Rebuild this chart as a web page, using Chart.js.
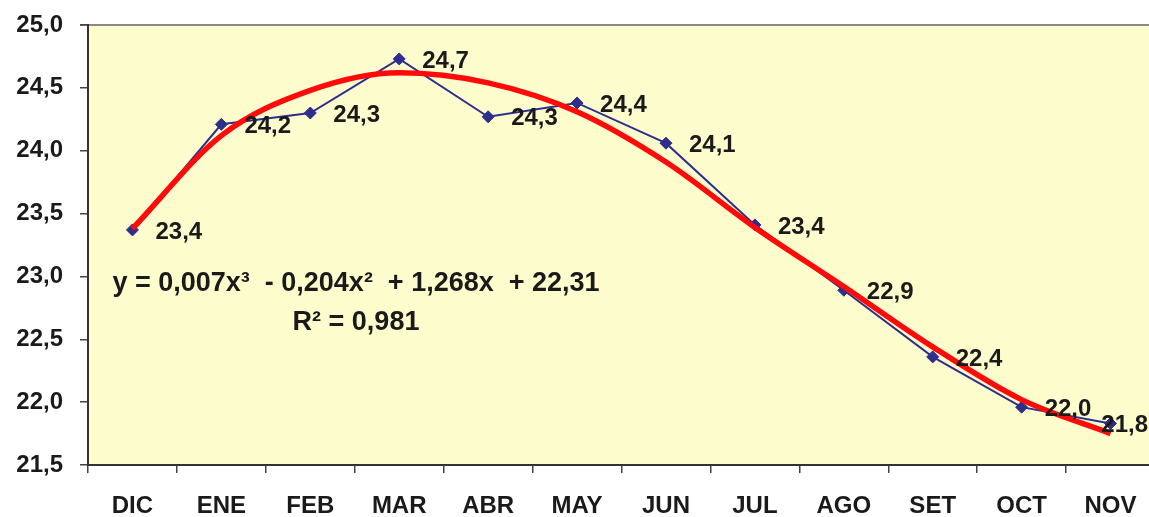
<!DOCTYPE html>
<html lang="es">
<head>
<meta charset="utf-8">
<title>Temperatura media mensual</title>
<script src="https://cdn.jsdelivr.net/npm/chart.js@4/dist/chart.umd.min.js"></script>
<style>
    html, body {
        margin: 0;
        padding: 0;
        background: #ffffff;
        overflow: hidden;
    }
    .chart-wrap {
        position: relative;
        width: 1162px;
        height: 517px;
    }
</style>
</head>
<body>
<div class="chart-wrap">
    <canvas id="tempChart" width="1162" height="517"></canvas>
</div>
<script>
// Chart data
const months = ['DIC', 'ENE', 'FEB', 'MAR', 'ABR', 'MAY', 'JUN', 'JUL', 'AGO', 'SET', 'OCT', 'NOV'];
const tempValues = [23.37, 24.21, 24.30, 24.73, 24.27, 24.38, 24.06, 23.41, 22.89, 22.36, 21.96, 21.83];
// Polynomial trendline, sampled at each month
const trendValues = [23.38, 24.12, 24.48, 24.62, 24.54, 24.31, 23.91, 23.39, 22.92, 22.44, 22.02, 21.75];
const yMin = 21.5;
const yMax = 25.0;
const yStep = 0.5;
const equationLine = 'y = 0,007x\u00B3  - 0,204x\u00B2  + 1,268x  + 22,31';
const r2Line = 'R\u00B2 = 0,981';

const FONT = 'Arial, "Liberation Sans", sans-serif';
const VISIBLE_WIDTH = 1149;

// Decimal comma, one digit
const fmt = (v) => v.toFixed(1).replace('.', ',');

document.addEventListener('DOMContentLoaded', () => {
    const ctx = document.getElementById('tempChart').getContext('2d');

    // Pale yellow plot area plus the grey top border
    const plotBackground = {
        id: 'plotBackground',
        beforeDraw(chart) {
            const { ctx, chartArea: a } = chart;
            ctx.save();
            ctx.fillStyle = '#FDFCCD';
            ctx.fillRect(a.left, a.top, a.right - a.left, a.bottom - a.top);
            ctx.strokeStyle = '#8a8a8a';
            ctx.lineWidth = 2;
            ctx.beginPath();
            ctx.moveTo(a.left - 8, a.top);
            ctx.lineTo(a.right, a.top);
            ctx.stroke();
            ctx.restore();
        }
    };

    // Value labels to the right of each marker, and the trend equation
    const annotations = {
        id: 'annotations',
        afterDatasetsDraw(chart) {
            const { ctx } = chart;
            const meta = chart.getDatasetMeta(1);
            ctx.save();
            ctx.fillStyle = '#1a1a1a';
            ctx.font = 'bold 24px ' + FONT;
            ctx.textBaseline = 'middle';
            ctx.textAlign = 'left';
            meta.data.forEach((pt, i) => {
                const text = fmt(tempValues[i]);
                const w = ctx.measureText(text).width;
                // keep the last label inside the picture, like the original
                const x = Math.min(pt.x + 23, VISIBLE_WIDTH - 1 - w);
                ctx.fillText(text, x, pt.y + 2);
            });

            ctx.font = 'bold 27px ' + FONT;
            ctx.textAlign = 'center';
            ctx.fillText(equationLine, 356, 284);
            ctx.fillText(r2Line, 356, 323);
            ctx.restore();
        }
    };

    new Chart(ctx, {
        type: 'line',
        data: {
            labels: months,
            datasets: [
                {
                    label: 'Polinómica',
                    data: trendValues,
                    borderColor: '#FF0A0A',
                    borderWidth: 5.5,
                    pointRadius: 0,
                    cubicInterpolationMode: 'monotone',
                    fill: false,
                    order: 0,
                },
                {
                    label: 'Temperatura',
                    data: tempValues,
                    borderColor: '#2E2E8C',
                    borderWidth: 2,
                    pointStyle: 'rectRot',
                    pointRadius: 6,
                    pointBackgroundColor: '#2E2E8C',
                    pointBorderColor: '#2E2E8C',
                    pointBorderWidth: 1,
                    tension: 0,
                    fill: false,
                    order: 1,
                },
            ],
        },
        options: {
            responsive: false,
            animation: false,
            layout: {
                padding: { top: 25, right: 3, left: 0, bottom: 0 }
            },
            plugins: {
                legend: { display: false },
                tooltip: { enabled: false },
            },
            scales: {
                x: {
                    offset: true,
                    grid: {
                        offset: true,
                        drawOnChartArea: false,
                        drawTicks: true,
                        tickLength: 8,
                        color: '#444',
                        lineWidth: 1.5,
                    },
                    border: { display: true, color: '#333', width: 2 },
                    ticks: {
                        color: '#1a1a1a',
                        padding: 19,
                        autoSkip: false,
                        maxRotation: 0,
                        font: { family: FONT, size: 24, weight: 'bold' },
                    },
                    afterFit(scale) {
                        scale.height = 52;
                        scale.paddingLeft = 0;
                        scale.paddingRight = 0;
                    },
                },
                y: {
                    min: yMin,
                    max: yMax,
                    grid: {
                        drawOnChartArea: false,
                        drawTicks: true,
                        tickLength: 8,
                        color: '#444',
                        lineWidth: 1.5,
                    },
                    border: { display: true, color: '#333', width: 2 },
                    ticks: {
                        stepSize: yStep,
                        color: '#1a1a1a',
                        padding: 17,
                        font: { family: FONT, size: 24, weight: 'bold' },
                        callback: (val) => fmt(val),
                    },
                    afterFit(scale) {
                        scale.width = 88;
                        // no extra room above/below for the end labels
                        scale.paddingTop = 0;
                        scale.paddingBottom = 0;
                    },
                },
            },
        },
        plugins: [plotBackground, annotations],
    });
});
</script>
</body>
</html>
